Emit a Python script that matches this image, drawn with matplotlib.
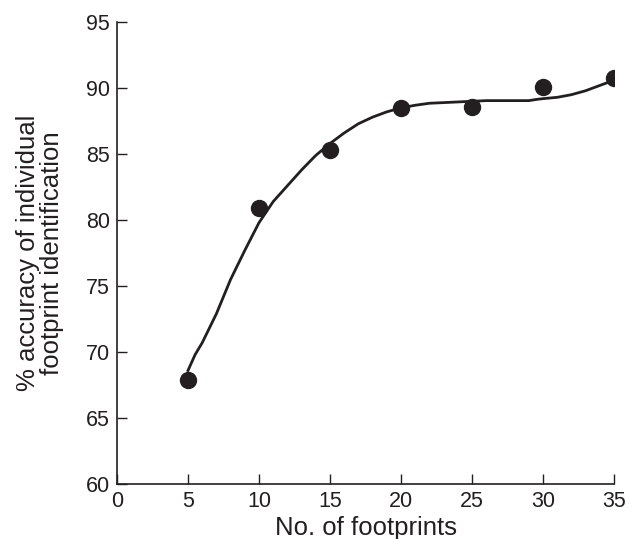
import matplotlib
matplotlib.use('Agg')
import matplotlib.pyplot as plt
from matplotlib import rcParams

rcParams['font.family'] = ['Liberation Sans', 'DejaVu Sans']

# измеренные точки
footprints = [5, 10, 15, 20, 25, 30, 35]
accuracy = [67.9, 80.9, 85.3, 88.5, 88.6, 90.1, 90.8]

# сглаженная кривая
curve_x = [5, 5.5, 6, 7, 8, 9, 10, 11, 12, 13, 14, 15, 16, 17, 18, 19, 20,
           21, 22, 23, 24, 25, 26, 27, 28, 29, 29.6, 30, 31, 32, 33, 34, 35]
curve_y = [68.6, 69.8, 70.7, 72.9, 75.5, 77.7, 79.8, 81.4, 82.6, 83.8, 84.9,
           85.8, 86.6, 87.3, 87.8, 88.2, 88.5, 88.7, 88.85, 88.9, 88.95,
           89.0, 89.05, 89.05, 89.05, 89.05, 89.15, 89.2, 89.3, 89.5, 89.8,
           90.2, 90.6]

ink = '#231f20'

fig = plt.figure(figsize=(6.34, 5.39), dpi=100)
ax = fig.add_axes([0.1845, 0.102, 0.784, 0.857])

ax.plot(curve_x, curve_y, color=ink, lw=2.0, zorder=2)
ax.plot(footprints, accuracy, 'o', color=ink, ms=11.5, zorder=3)

ax.set_xlim(0, 35)
ax.set_ylim(60, 95)
ax.set_xticks(range(0, 36, 5))
ax.set_yticks(range(60, 96, 5))

for s in ['top', 'right']:
    ax.spines[s].set_visible(False)
for s in ['left', 'bottom']:
    ax.spines[s].set_color(ink)
    ax.spines[s].set_linewidth(1.2)

ax.tick_params(direction='in', length=7, width=1, color=ink,
               labelsize=15.5, labelcolor=ink, pad=5)

ax.set_xlabel('No. of footprints', fontsize=18.5, color=ink, labelpad=3)
ax.set_ylabel('% accuracy of individual\nfootprint identification',
              fontsize=18.5, color=ink, labelpad=16, linespacing=1.0)

ax.patch.set_visible(False)
fig.savefig('out.png', dpi=100)
